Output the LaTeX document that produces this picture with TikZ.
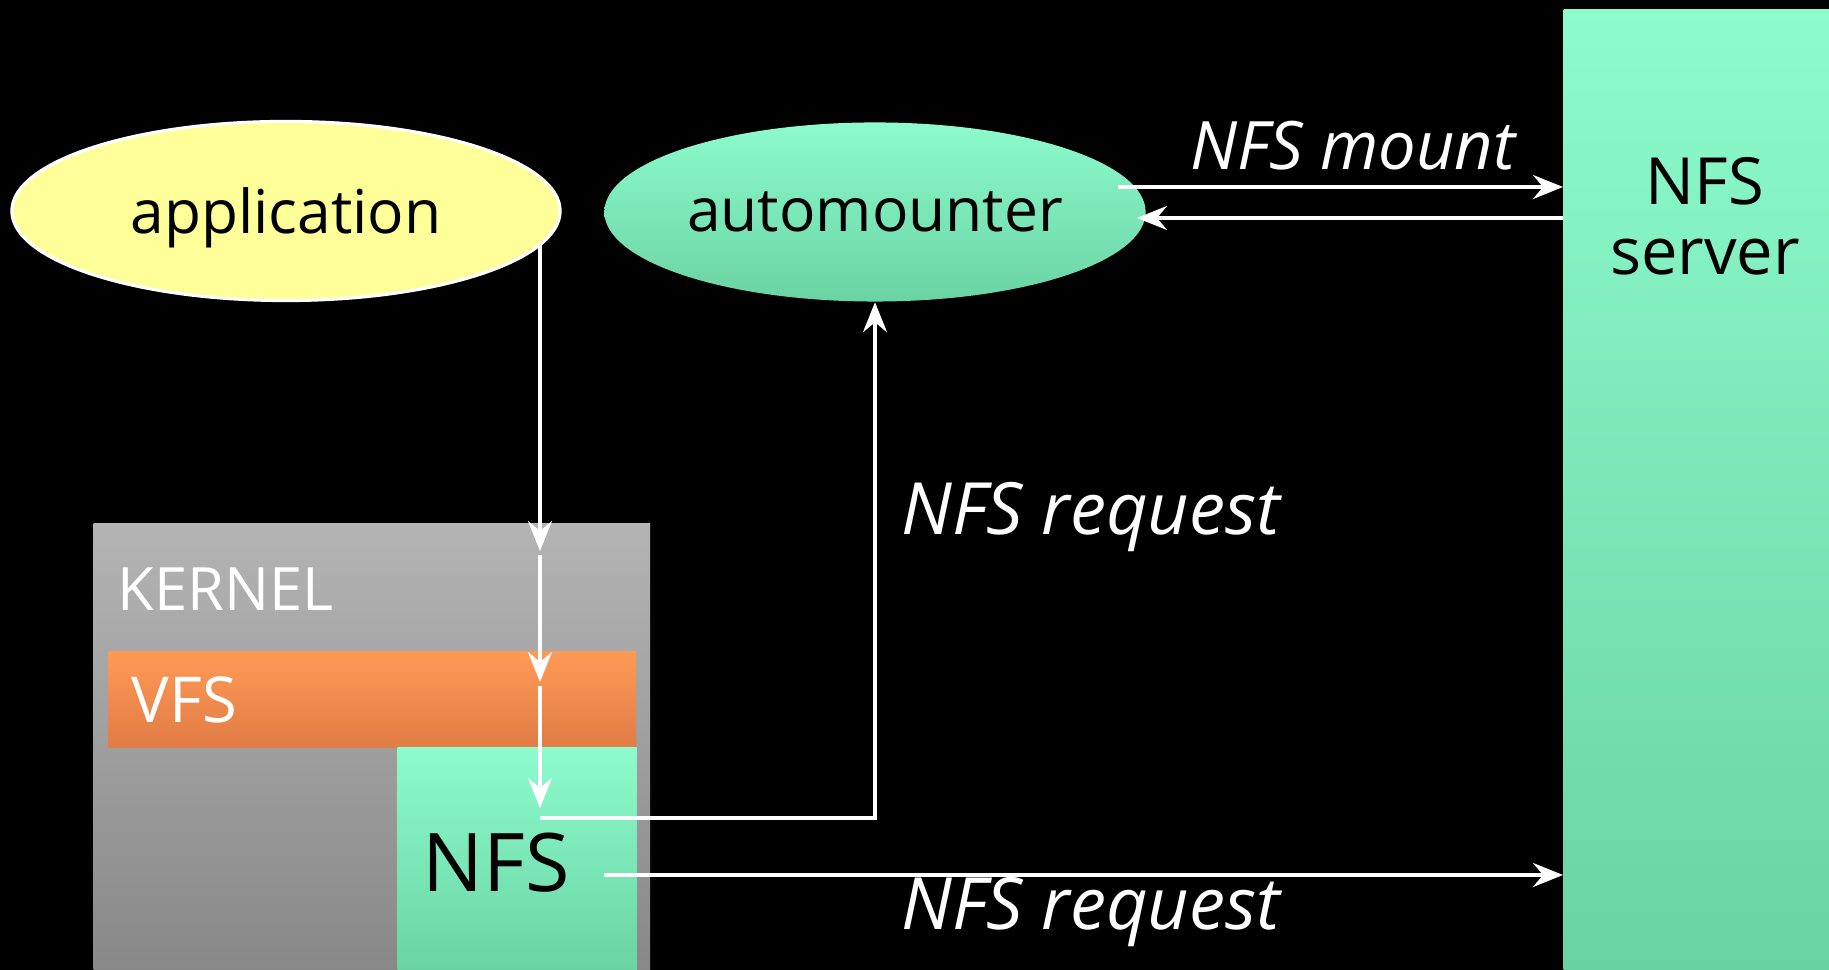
\documentclass[tikz,border=0pt]{standalone}
\usepackage{fontspec}
\setmainfont{Open Sans}
\usepackage{xcolor}
\usepackage{tikz}
\usetikzlibrary{arrows.meta,calc,positioning}
\usetikzlibrary{shapes.geometric}
\definecolor{mint}{HTML}{8DFBCC}
\definecolor{mintdark}{HTML}{6AD3A3}
\definecolor{paleyellow}{HTML}{FFFF99}
\definecolor{vfsorange}{HTML}{FF9A56}
\definecolor{vfsdark}{HTML}{E07C45}
\definecolor{kgrey}{HTML}{B4B4B4}
\definecolor{kgreydark}{HTML}{888888}

\begin{document}
\begin{tikzpicture}[
    x=0.01cm, y=0.01cm,
    nosep/.style={inner sep=0},
    flow/.style={draw=white, line width=1pt, -{Stealth[length=0.3cm, width=0.24cm, inset=0.1cm]}},
    layer/.style={rectangle, nosep, anchor=north west},
    mintbox/.style={layer, top color=mint, bottom color=mintdark},
    bubble/.style={ellipse, nosep, minimum height=1.79cm, text depth=0pt, font=\fontsize{17.2}{20}\selectfont},
    tag/.style={text=white, font=\fontsize{19}{22}\selectfont\itshape}]

\fill[black] (0,0) rectangle (1829,970);
\useasboundingbox (0,0) rectangle (1829,970);

\node (server) [mintbox, minimum width=2.66cm, minimum height=9.61cm] at (1563,961) {};
\node (kernel) [layer, top color=kgrey, bottom color=kgreydark, minimum width=5.56cm, minimum height=4.47cm] at (93,447) {};
\node (vfs) [layer, top color=vfsorange, bottom color=vfsdark, minimum width=5.27cm, minimum height=0.96cm] at (108,319) {};
\node (nfs) [mintbox, minimum width=2.39cm, minimum height=2.23cm] at (397,223) {};

\node (server text) [align=center, font=\fontsize{18.5}{20}\selectfont] at (1705,754) {NFS\\server};
\node (kernel text) [nosep, anchor=west, text=white, font=\fontsize{17}{20}\selectfont] at (117,381) {KERNEL};
\node (vfs text) [nosep, anchor=west, text=white, font=\fontsize{18}{20}\selectfont] at (131,270) {VFS};
\node (nfs text) [font=\fontsize{23}{26}\selectfont] at (496,107) {NFS};

\node (app) [bubble, fill=paleyellow, draw=white, line width=0.9pt, minimum width=5.48cm] at (286,759) {application};
\node (automnt) [bubble, top color=mint, bottom color=mintdark, minimum width=5.41cm] at (875,758) {automounter};

\coordinate (kin) at (540,419);
\coordinate (vin) at (540,288);
\coordinate (nin) at (540,162);
\coordinate (nout) at (540,152);
\coordinate (mnt out) at (1118,783);
\coordinate (mnt in) at (1137,752);
\coordinate (req out) at (604,95);

\draw[flow] (kin |- app.-7.5) -- (kin);
\draw[flow, shorten <=1pt] (kin) -- (vin);
\draw[flow, shorten <=1pt] (vin) -- (nin);
\draw[flow] (nout) -| (automnt.south);
\draw[flow] (mnt out) -- (mnt out -| server.west);
\draw[flow] (mnt in -| server.west) -- (mnt in);
\draw[flow] (req out) -- (req out -| server.west);

\node (mount label) [tag] at (1353,824) {NFS mount};
\node (req label up) [tag, font=\fontsize{20.5}{22}\selectfont\itshape] at (1091,453) {NFS request};
\node (req label down) [tag, font=\fontsize{20.5}{22}\selectfont\itshape] at (1091,58) {NFS request};

\end{tikzpicture}
\end{document}
